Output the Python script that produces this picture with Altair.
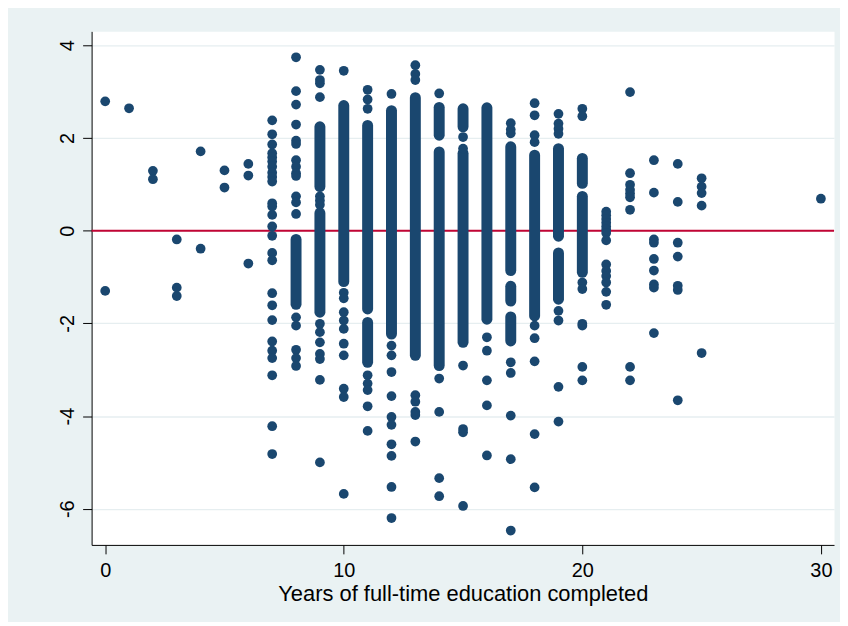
import altair as alt
import pandas as pd

# ---- individual (separable) residual points, by years of education ----
edu_0 = [2.79, -1.30]
edu_1 = [2.64]
edu_2 = [1.29, 1.11]
edu_3 = [-0.19, -1.23, -1.41]
edu_4 = [1.71, -0.39]
edu_5 = [1.30, 0.93]
edu_6 = [1.44, 1.19, -0.71]
edu_7 = [2.38, 2.08, 1.86, 1.67, 1.58, 1.49, 1.38, 1.25, 1.16, 1.06, 0.59, 0.52,
         0.34, 0.09, -0.11, -0.48, -0.64, -1.35, -1.61, -1.93, -2.39, -2.59,
         -2.75, -3.12, -4.22, -4.82]
edu_8 = [3.74, 3.01, 2.72, 2.29, 1.94, 1.87, 1.52, 1.38, 1.24, 1.18, 0.74, 0.61,
         0.36, -1.87, -2.05, -2.57, -2.75, -2.92]
edu_9 = [3.47, 3.25, 3.18, 2.88, 0.74, 0.65, 0.56, -2.01, -2.19, -2.41, -2.66,
         -2.77, -3.22, -5.00]
edu_10 = [3.45, -1.34, -1.46, -1.76, -1.94, -2.12, -2.44, -2.69, -3.41, -3.59, -5.68]
edu_11 = [3.04, 2.83, 2.63, -3.12, -3.30, -3.44, -3.79, -4.32]
edu_12 = [2.95, -2.48, -2.69, -3.05, -3.57, -4.02, -4.19, -4.61, -4.86, -5.53, -6.20]
edu_13 = [3.57, 3.38, 3.25, -3.55, -3.69, -3.91, -3.98, -4.55]
edu_14 = [2.96, -3.19, -3.91, -5.34, -5.73]
edu_15 = [2.02, 1.77, -2.91, -4.28, -4.35, -5.94]
edu_16 = [-2.30, -2.59, -3.23, -3.77, -4.85]
edu_17 = [2.32, 2.18, 2.10, -2.84, -3.07, -3.99, -4.93, -6.47]
edu_18 = [2.75, 2.49, 2.06, 1.91, -2.05, -2.32, -2.82, -4.39, -5.54]
edu_19 = [2.52, 2.31, 2.20, 2.09, -1.73, -1.94, -3.37, -4.12]
edu_20 = [2.63, 2.47, -1.12, -1.26, -2.01, -2.05, -2.94, -3.23]
edu_21 = [0.41, 0.33, 0.25, 0.17, 0.09, 0.02, -0.05, -0.21, -0.73, -0.87, -0.98,
          -1.12, -1.32, -1.60]
edu_22 = [2.99, 1.24, 0.99, 0.88, 0.80, 0.72, 0.45, -2.94, -3.23]
edu_23 = [1.52, 0.82, -0.19, -0.26, -0.61, -0.86, -1.16, -1.23, -2.21]
edu_24 = [1.44, 0.62, -0.26, -0.56, -1.19, -1.28, -3.66]
edu_25 = [1.13, 0.95, 0.81, 0.54, -2.64]
edu_30 = [0.69]

points_by_years = {
    0: edu_0, 1: edu_1, 2: edu_2, 3: edu_3, 4: edu_4, 5: edu_5, 6: edu_6,
    7: edu_7, 8: edu_8, 9: edu_9, 10: edu_10, 11: edu_11, 12: edu_12,
    13: edu_13, 14: edu_14, 15: edu_15, 16: edu_16, 17: edu_17, 18: edu_18,
    19: edu_19, 20: edu_20, 21: edu_21, 22: edu_22, 23: edu_23, 24: edu_24,
    25: edu_25, 30: edu_30,
}

# ---- runs where overlapping points merge into a solid column ----
stripe_x      = [8, 9, 9, 10, 11, 11, 12, 13, 14, 14, 15, 15, 16, 17, 17, 17, 18, 19, 19, 20, 20]
stripe_top    = [-0.19, 2.24, 0.38, 2.70, 2.27, -1.98, 2.59, 2.87, 2.66, 1.70, 2.63, 1.67,
                 2.65, 1.81, -1.20, -1.86, 1.63, 1.77, -0.48, 1.56, 0.74]
stripe_bottom = [-1.59, 0.95, -1.76, -1.10, -1.69, -2.84, -2.23, -2.69, 2.06, -2.91, 2.24,
                 -2.41, -1.91, -0.86, -1.52, -2.38, -1.84, -0.12, -1.48, 1.02, -0.90]

x_ticks = [0, 10, 20, 30]
y_ticks = [-6, -4, -2, 0, 2, 4]
ref_line = [0]

NAVY = "#1A476F"
RED = "#C10534"
FONT = "Liberation Sans"

pts = pd.DataFrame(
    [(x, y) for x, ys in points_by_years.items() for y in ys],
    columns=["educ", "resid"],
)
stripes = pd.DataFrame({"educ": stripe_x, "top": stripe_top, "bottom": stripe_bottom})
ref = pd.DataFrame({"resid": ref_line})

xscale = alt.Scale(domain=[-0.57, 30.55], nice=False, zero=False)
yscale = alt.Scale(domain=[-6.78, 4.30], nice=False, zero=False)

xaxis = alt.Axis(
    values=x_ticks, title="Years of full-time education completed",
    grid=False, labelFontSize=20, labelBaseline="alphabetic", labelPadding=23,
    titleFontSize=22, titleFontWeight="normal", titleBaseline="alphabetic",
    titleY=56,
)
yaxis = alt.Axis(
    values=y_ticks, title=None, grid=True, gridColor="#E6EEF0", gridWidth=1.3,
    labelFontSize=20, labelAngle=270, labelAlign="center",
    labelBaseline="alphabetic", labelPadding=9,
    labelExpr="'' + datum.value",
)

zero_rule = alt.Chart(ref).mark_rule(color=RED, strokeWidth=2).encode(
    y=alt.Y("resid:Q", scale=yscale, axis=yaxis),
)

stripe_layer = alt.Chart(stripes).mark_rule(
    color=NAVY, strokeWidth=11, strokeCap="round"
).encode(
    x=alt.X("educ:Q", scale=xscale, axis=xaxis),
    y=alt.Y("top:Q", scale=yscale, axis=yaxis),
    y2="bottom:Q",
)

point_layer = alt.Chart(pts).mark_circle(color=NAVY, size=96, opacity=1).encode(
    x=alt.X("educ:Q", scale=xscale, axis=xaxis),
    y=alt.Y("resid:Q", scale=yscale, axis=yaxis),
)

chart = (
    alt.layer(zero_rule, stripe_layer, point_layer)
    .properties(
        width=746, height=516,
        autosize=alt.AutoSizeParams(type="none"),
        padding={"left": 84, "top": 22, "right": 6, "bottom": 76},
        background="#EAF2F3",
    )
    .configure_view(fill="white", stroke="transparent")
    .configure_axis(
        domainColor="black", domainWidth=1, tickColor="black", tickSize=9,
        tickWidth=1, labelColor="black", titleColor="black",
        labelFont=FONT, titleFont=FONT,
    )
)

chart.save("out.html", embed_options={"renderer": "svg", "actions": False})
